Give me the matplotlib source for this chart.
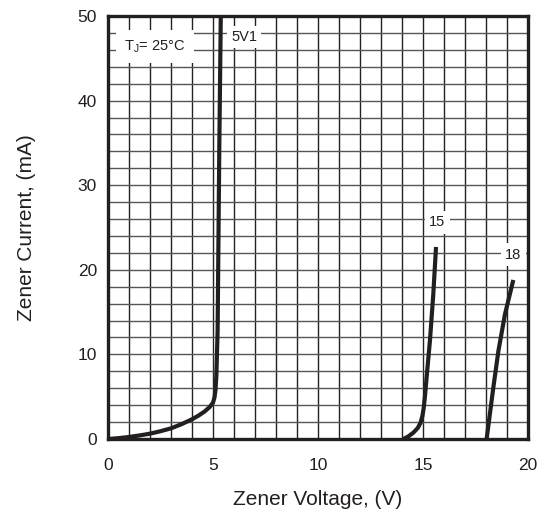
import matplotlib
matplotlib.use('Agg')
import matplotlib.pyplot as plt
from matplotlib.ticker import MultipleLocator

plt.rcParams['font.family'] = ['Liberation Sans', 'DejaVu Sans']
plt.rcParams['mathtext.fontset'] = 'custom'
plt.rcParams['mathtext.rm'] = 'Liberation Sans'

# 5V1 zener curve
v_5v1 = [0, 0.5, 1.0, 1.5, 2.0, 2.5, 3.0, 3.5, 4.0, 4.3, 4.6, 4.85, 5.0, 5.07, 5.12, 5.16, 5.22, 5.3, 5.37]
i_5v1 = [0, 0.1, 0.24, 0.42, 0.63, 0.92, 1.26, 1.75, 2.33, 2.75, 3.25, 3.8, 4.3, 4.9, 5.8, 7.5, 12.8, 34.4, 50]
# 15 V zener curve
v_15 = [14.06, 14.3, 14.54, 14.75, 14.88, 14.97, 15.03, 15.1, 15.17, 15.33, 15.49, 15.62]
i_15 = [0, 0.3, 0.75, 1.3, 1.9, 2.7, 3.6, 5.2, 7.25, 11.6, 17.1, 22.7]
# 18 V zener curve
v_18 = [18.03, 18.35, 18.59, 18.9, 19.3]
i_18 = [0, 6.1, 10.4, 14.7, 18.8]

fig = plt.figure(figsize=(5.49, 5.14), dpi=100)
ax = fig.add_axes([108 / 549, 75 / 514, 420 / 549, 423 / 514])

ink = '#231f20'
ax.plot(v_5v1, i_5v1, color=ink, lw=3, solid_capstyle='butt', solid_joinstyle='round', zorder=3)
ax.plot(v_15, i_15, color=ink, lw=3, solid_capstyle='butt', solid_joinstyle='round', zorder=3)
ax.plot(v_18, i_18, color=ink, lw=3, solid_capstyle='butt', solid_joinstyle='round', zorder=3)

ax.set_xlim(0, 20)
ax.set_ylim(0, 50)
ax.xaxis.set_major_locator(MultipleLocator(5))
ax.xaxis.set_minor_locator(MultipleLocator(1))
ax.yaxis.set_major_locator(MultipleLocator(10))
ax.yaxis.set_minor_locator(MultipleLocator(2))
ax.tick_params(which='both', length=0, labelsize=12.5, colors=ink)
ax.tick_params(axis='x', pad=14)
ax.tick_params(axis='y', pad=8)
ax.grid(which='both', axis='x', color='#222222', lw=1)
ax.grid(which='both', axis='y', color='#555555', lw=1)
ax.set_axisbelow(True)
for s in ax.spines.values():
    s.set_linewidth(2.4)
    s.set_color(ink)
    s.set_zorder(4)

ax.set_xlabel('Zener Voltage, (V)', fontsize=15, color=ink, labelpad=12)
ax.set_ylabel('Zener Current, (mA)', fontsize=15, color=ink, labelpad=30)

box = dict(facecolor='white', edgecolor='none', pad=3)
ax.text(2.24, 46.4, r'T$_\mathrm{J}$= 25°C', fontsize=10.5, ha='center', va='center',
        color=ink, bbox=dict(facecolor='white', edgecolor='none', pad=6), zorder=5)
ax.text(6.48, 47.5, '5V1', fontsize=10.5, ha='center', va='center', color=ink, bbox=box, zorder=5)
ax.text(15.68, 25.6, '15', fontsize=10.5, ha='center', va='center', color=ink, bbox=box, zorder=5)
ax.text(19.3, 21.8, '18', fontsize=10.5, ha='center', va='center', color=ink, bbox=box, zorder=5)

fig.savefig('out.png', dpi=100)
